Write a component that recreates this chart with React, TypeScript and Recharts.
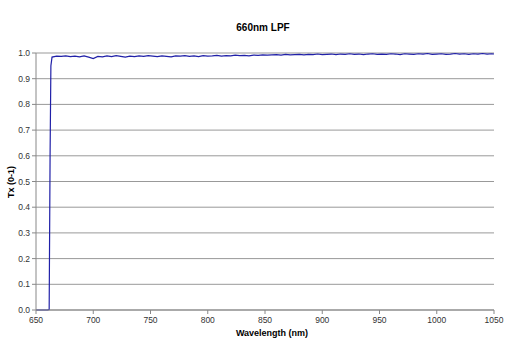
import { LineChart, Line, XAxis, YAxis, CartesianGrid } from "recharts";

const edgeWavelengths = [650, 655, 660, 661.5, 662.3, 663];
const edgeTx = [0.0, 0.0, 0.0, 0.002, 0.6, 0.95];

const passWavelengths = [
  664, 668, 672, 676, 680, 684, 688, 692, 696, 700,
  704, 708, 712, 716, 720, 724, 728, 732, 736, 740, 744, 748,
  752, 756, 760, 764, 768, 772, 776, 780, 784, 788, 792, 796, 800,
  804, 808, 812, 816, 820, 824, 828, 832, 836, 840, 844, 848, 852,
  856, 860, 864, 868, 872, 876, 880, 884, 888, 892, 896, 900,
  904, 908, 912, 916, 920, 924, 928, 932, 936, 940, 944, 948,
  952, 956, 960, 964, 968, 972, 976, 980, 984, 988, 992, 996, 1000,
  1004, 1008, 1012, 1016, 1020, 1024, 1028, 1032, 1036, 1040, 1044, 1048, 1050,
];
const passTx = [
  0.984, 0.988, 0.987, 0.989, 0.986, 0.988, 0.985, 0.989, 0.984, 0.978,
  0.987, 0.985, 0.989, 0.986, 0.99, 0.987, 0.984, 0.988, 0.986, 0.989, 0.987, 0.99,
  0.988, 0.986, 0.989, 0.987, 0.985, 0.989, 0.988, 0.99, 0.987, 0.989, 0.986, 0.99, 0.988,
  0.989, 0.991, 0.988, 0.99, 0.989, 0.992, 0.99, 0.991, 0.989, 0.992, 0.991, 0.993, 0.992,
  0.993, 0.994, 0.992, 0.995, 0.993, 0.994, 0.995, 0.993, 0.995, 0.994, 0.996, 0.994,
  0.995, 0.996, 0.994, 0.996, 0.995, 0.997, 0.995, 0.996, 0.994, 0.996, 0.997, 0.995,
  0.996, 0.995, 0.997, 0.996, 0.994, 0.997, 0.996, 0.995, 0.997, 0.996, 0.998, 0.995, 0.996,
  0.997, 0.995, 0.996, 0.998, 0.996, 0.997, 0.995, 0.997, 0.996, 0.998, 0.996, 0.997, 0.996,
];

const xTicks = [650, 700, 750, 800, 850, 900, 950, 1000, 1050];
const yTicks = [0, 0.1, 0.2, 0.3, 0.4, 0.5, 0.6, 0.7, 0.8, 0.9, 1.0];

const wavelengths = [...edgeWavelengths, ...passWavelengths];
const tx = [...edgeTx, ...passTx];
const data = wavelengths.map((w, i) => ({ w, tx: tx[i] }));

const font = "'Liberation Sans', Arial, sans-serif";

export default function App() {
  const tickStyle = { fontSize: 8.5, fill: "#333", fontFamily: font };

  return (
    <div style={{ position: "absolute", left: 0, top: 0, width: 510, height: 360, background: "#fff", fontFamily: font }}>
      <div style={{ position: "absolute", left: 0, width: 526, top: 22, textAlign: "center", fontSize: 10, fontWeight: "bold", color: "#000" }}>
        660nm LPF
      </div>
      <div style={{ position: "absolute", left: 0, width: 544, top: 328, textAlign: "center", fontSize: 9, fontWeight: "bold", color: "#000" }}>
        Wavelength (nm)
      </div>
      <div
        style={{
          position: "absolute",
          left: 11,
          top: 182,
          transform: "translate(-50%, -50%) rotate(-90deg)",
          fontSize: 9,
          fontWeight: "bold",
          whiteSpace: "nowrap",
          color: "#000",
        }}
      >
        Tx (0-1)
      </div>
      <LineChart width={510} height={360} data={data} margin={{ top: 53, right: 16, left: 0, bottom: 30 }}>
        <CartesianGrid vertical={false} stroke="#999" horizontalValues={yTicks} />
        <XAxis
          dataKey="w"
          type="number"
          domain={[650, 1050]}
          ticks={xTicks}
          height={20}
          tick={tickStyle}
          tickSize={4}
          tickMargin={3}
          stroke="#888"
          interval={0}
        />
        <YAxis
          type="number"
          domain={[0, 1]}
          ticks={yTicks}
          width={36}
          tick={tickStyle}
          tickSize={4}
          tickMargin={2}
          stroke="#888"
          interval={0}
          tickFormatter={(v: number) => v.toFixed(1)}
        />
        <Line
          dataKey="tx"
          type="linear"
          stroke="#2020a8"
          strokeWidth={1.2}
          dot={false}
          isAnimationActive={false}
        />
      </LineChart>
    </div>
  );
}
